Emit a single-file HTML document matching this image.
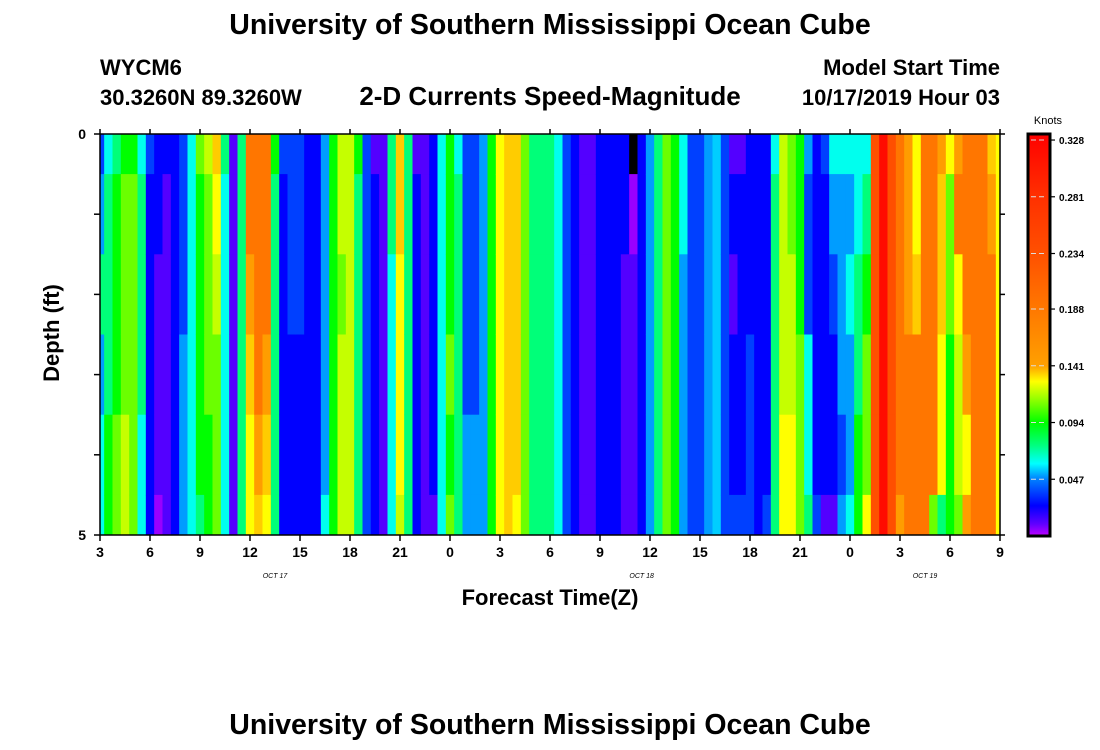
<!DOCTYPE html>
<html><head><meta charset="utf-8">
<style>
html,body{margin:0;padding:0;background:#fff;}
svg{display:block;font-family:"Liberation Sans",Arial,sans-serif;}
</style></head>
<body>
<svg id="chart" width="1100" height="750" viewBox="0 0 1100 750">
<text x="550" y="34" text-anchor="middle" font-size="28.5" font-weight="bold">University of Southern Mississippi Ocean Cube</text>
<text x="100" y="75" font-size="22" font-weight="bold">WYCM6</text>
<text x="100" y="105" font-size="22" font-weight="bold">30.3260N 89.3260W</text>
<text x="550" y="105" text-anchor="middle" font-size="26" font-weight="bold">2-D Currents Speed-Magnitude</text>
<text x="1000" y="75" text-anchor="end" font-size="22" font-weight="bold">Model Start Time</text>
<text x="1000" y="105" text-anchor="end" font-size="22" font-weight="bold">10/17/2019 Hour 03</text>
<g id="cells"></g>
<g id="axes"></g>
<g id="cbar"></g>
<text x="550" y="605" text-anchor="middle" font-size="22" font-weight="bold">Forecast Time(Z)</text>
<text x="0" y="0" transform="translate(59,333) rotate(-90)" text-anchor="middle" font-size="22" font-weight="bold">Depth (ft)</text>
<text x="550" y="734" text-anchor="middle" font-size="28.5" font-weight="bold">University of Southern Mississippi Ocean Cube</text>
</svg>
<script>
const xTickLabels = ["3","6","9","12","15","18","21","0","3","6","9","12","15","18","21","0","3","6","9"];
const dateLabels = ["OCT 17","OCT 18","OCT 19"];
const dateLabelHours = [10.5, 32.5, 49.5];
const depthTickLabels = ["0","5"];
const cbarTicks = [0.047,0.094,0.141,0.188,0.234,0.281,0.328];
// speeds[timeStep][depthIndex], knots; timeStep every 0.5 h from 03Z Oct 17; null = missing
const speeds = [
[.036,.05,.076,.05,.062,.062],[.062,.076,.076,.076,.094,.094],[.076,.094,.094,.094,.108,.108],[.094,.108,.108,.108,.12,.12],
[.094,.108,.108,.108,.108,.108],[.062,.076,.076,.076,.062,.062],[.036,.025,.025,.025,.025,.025],[.025,.025,.012,.012,.012,.004],
[.025,.012,.012,.012,.012,.012],[.025,.025,.025,.025,.025,.025],[.036,.036,.036,.05,.05,.05],[.062,.062,.062,.062,.062,.062],
[.108,.094,.094,.094,.094,.076],[.12,.108,.108,.108,.094,.094],[.135,.128,.12,.108,.108,.108],[.076,.062,.062,.062,.062,.062],
[.012,.012,.012,.012,.012,.012],[.076,.076,.076,.076,.076,.076],[.19,.19,.145,.135,.128,.128],[.19,.19,.19,.19,.145,.135],
[.19,.19,.19,.145,.135,.128],[.094,.076,.076,.076,.076,.076],[.036,.025,.025,.025,.025,.025],[.036,.036,.036,.025,.025,.025],
[.036,.036,.036,.025,.025,.025],[.025,.025,.025,.025,.025,.025],[.025,.025,.025,.025,.025,.025],[.05,.05,.05,.05,.05,.062],
[.094,.094,.094,.094,.094,.094],[.12,.12,.108,.12,.12,.12],[.12,.12,.12,.12,.12,.12],[.094,.076,.076,.076,.076,.076],
[.036,.036,.036,.036,.036,.036],[.012,.025,.025,.025,.025,.025],[.012,.012,.012,.012,.012,.012],[.076,.076,.062,.062,.062,.062],
[.135,.135,.128,.128,.128,.12],[.076,.076,.076,.076,.076,.076],[.012,.025,.025,.025,.025,.025],[.012,.012,.012,.012,.012,.012],
[.025,.025,.025,.025,.025,.012],[.062,.062,.062,.062,.062,.062],[.094,.094,.094,.108,.094,.108],[.062,.076,.076,.076,.076,.076],
[.036,.036,.036,.036,.05,.05],[.036,.036,.036,.036,.05,.05],[.05,.05,.05,.05,.05,.05],[.094,.094,.094,.094,.094,.094],
[.128,.128,.128,.128,.128,.128],[.135,.135,.135,.135,.135,.135],[.135,.135,.135,.135,.135,.128],[.108,.108,.108,.108,.108,.108],
[.076,.076,.076,.076,.076,.076],[.076,.076,.076,.076,.076,.076],[.076,.076,.076,.076,.076,.076],[.062,.062,.062,.062,.062,.062],
[.036,.036,.036,.036,.036,.036],[.025,.025,.025,.025,.025,.025],[.012,.012,.012,.012,.012,.012],[.012,.012,.012,.012,.012,.012],
[.025,.025,.025,.025,.025,.025],[.025,.025,.025,.025,.025,.025],[.025,.025,.025,.025,.025,.025],[.025,.025,.012,.012,.012,.012],
[null,.004,.012,.012,.012,.012],[.025,.025,.025,.025,.025,.025],[.05,.05,.05,.05,.05,.05],[.076,.076,.076,.076,.076,.076],
[.108,.108,.108,.108,.108,.108],[.094,.094,.094,.094,.094,.094],[.062,.062,.05,.05,.05,.05],[.036,.036,.036,.036,.036,.036],
[.036,.036,.036,.036,.036,.036],[.05,.05,.05,.05,.05,.05],[.055,.055,.055,.055,.055,.055],[.036,.036,.036,.036,.036,.036],
[.012,.025,.012,.025,.025,.036],[.012,.025,.025,.025,.025,.036],[.025,.025,.025,.036,.036,.036],[.025,.025,.025,.025,.025,.025],
[.025,.025,.025,.025,.025,.036],[.062,.076,.076,.076,.076,.076],[.12,.12,.12,.12,.128,.128],[.108,.108,.12,.12,.128,.128],
[.094,.094,.094,.108,.108,.108],[.05,.036,.036,.062,.062,.076],[.025,.025,.025,.025,.025,.036],[.036,.025,.025,.025,.025,.012],
[.062,.05,.036,.025,.025,.012],[.062,.05,.05,.05,.036,.05],[.062,.05,.062,.05,.05,.062],[.062,.062,.076,.076,.094,.094],
[.062,.076,.094,.108,.108,.128],[.235,.235,.235,.235,.235,.235],[.32,.32,.32,.32,.32,.32],[.235,.235,.235,.235,.235,.235],
[.19,.19,.19,.19,.19,.145],[.145,.145,.145,.19,.19,.19],[.128,.128,.135,.19,.19,.19],[.19,.19,.19,.19,.19,.19],
[.19,.19,.19,.19,.19,.108],[.145,.135,.135,.128,.128,.076],[.128,.108,.108,.094,.094,.094],[.145,.19,.128,.12,.12,.108],
[.19,.19,.19,.145,.128,.145],[.19,.19,.19,.19,.19,.19],[.19,.19,.19,.19,.19,.19],[.135,.145,.19,.19,.19,.19],
[.128,.128,.128,.128,.128,.128]
];
const NS="http://www.w3.org/2000/svg";
const X0=100,X1=1000,Y0=134,Y1=535,HOURS=54,MAXD=5;
const xScale=h=>X0+(h/HOURS)*(X1-X0);
const yScale=d=>Y0+(d/MAXD)*(Y1-Y0);
const stops=[[0,[192,0,255]],[0.01,[96,0,255]],[0.025,[0,0,255]],[0.047,[0,128,255]],[0.06,[0,255,255]],[0.075,[0,255,128]],[0.094,[0,255,0]],[0.115,[160,255,0]],[0.128,[255,255,0]],[0.141,[255,160,0]],[0.188,[255,120,0]],[0.234,[255,80,0]],[0.281,[255,48,0]],[0.333,[255,0,0]]];
function color(v){
 if(v===null) return "#000";
 if(v<=stops[0][0]) return `rgb(${stops[0][1]})`;
 for(let i=1;i<stops.length;i++){ if(v<=stops[i][0]){const a=stops[i-1],b=stops[i],t=(v-a[0])/(b[0]-a[0]);const c=a[1].map((x,k)=>Math.round(x+(b[1][k]-x)*t));return `rgb(${c})`;}}
 return "rgb(255,0,0)";
}
function mk(tag,attrs,parent){const e=document.createElementNS(NS,tag);for(const k in attrs)e.setAttribute(k,attrs[k]);parent.appendChild(e);return e;}
const cells=document.getElementById('cells');
speeds.forEach((col,i)=>{
 const h=i*0.5;
 const xa=Math.max(X0,xScale(h-0.25)),xb=Math.min(X1,xScale(h+0.25));
 col.forEach((v,d)=>{
  const ya=Math.max(Y0,yScale(d-0.5)),yb=Math.min(Y1,yScale(d+0.5));
  const r=mk('rect',{x:xa,y:ya,width:xb-xa+0.4,height:yb-ya+0.4,fill:color(v)},cells);
  
  
 });
});
const ax=document.getElementById('axes');
const frame=mk('rect',{x:X0,y:Y0,width:X1-X0,height:Y1-Y0,fill:'none',stroke:'#000','stroke-width':1.5},ax);


xTickLabels.forEach((lab,i)=>{
 const x=xScale(i*3);
 mk('line',{x1:x,x2:x,y1:Y1,y2:Y1+6,stroke:'#000','stroke-width':1.5},ax);
 mk('line',{x1:x,x2:x,y1:Y0,y2:Y0-5,stroke:'#000','stroke-width':1.5},ax);
 const t=mk('text',{x:x,y:Y1+22,'text-anchor':'middle','font-size':14,'font-weight':'bold'},ax);
 t.textContent=lab;
 
 
});
dateLabels.forEach((lab,i)=>{
 const t=mk('text',{x:xScale(dateLabelHours[i]),y:Y1+43,'text-anchor':'middle','font-size':7,'font-style':'italic'},ax);
 t.textContent=lab;
 
 
});
for(let d=0;d<=MAXD;d++){
 const y=yScale(d);
 mk('line',{x1:X0-6,x2:X0,y1:y,y2:y,stroke:'#000','stroke-width':1.5},ax);
 mk('line',{x1:X1,x2:X1+5,y1:y,y2:y,stroke:'#000','stroke-width':1.5},ax);
}
depthTickLabels.forEach((lab,i)=>{
 const t=mk('text',{x:X0-14,y:(i===0?Y0:Y1)+5,'text-anchor':'end','font-size':14,'font-weight':'bold'},ax);
 t.textContent=lab;
 
 
});
// colorbar
const cb=document.getElementById('cbar');
const CX=1028,CW=22,CY0=134,CY1=536,CMAX=0.333;
const cy=v=>CY1-(v/CMAX)*(CY1-CY0);
const defs=mk('defs',{},cb);
const grad=mk('linearGradient',{id:'cg',x1:0,y1:1,x2:0,y2:0},defs);
stops.forEach(s=>mk('stop',{offset:s[0]/CMAX,'stop-color':`rgb(${s[1]})`},grad));
const bar=mk('rect',{x:CX,y:CY0,width:CW,height:CY1-CY0,fill:'url(#cg)',stroke:'#000','stroke-width':3},cb);


const kt=mk('text',{x:CX+20,y:124,'text-anchor':'middle','font-size':11},cb);
kt.textContent='Knots';


cbarTicks.forEach(v=>{
 const y=cy(v);
 mk('line',{x1:CX+3,x2:CX+CW-3,y1:y,y2:y,stroke:'#ddd','stroke-width':1,'stroke-dasharray':'5,3'},cb);
 mk('line',{x1:CX+CW,x2:CX+CW+5,y1:y,y2:y,stroke:'#000','stroke-width':1.2},cb);
 const t=mk('text',{x:CX+CW+9,y:y+4,'font-size':10,'font-weight':'bold'},cb);
 t.textContent=v.toFixed(3);
 
 
});
</script>
</body></html>
